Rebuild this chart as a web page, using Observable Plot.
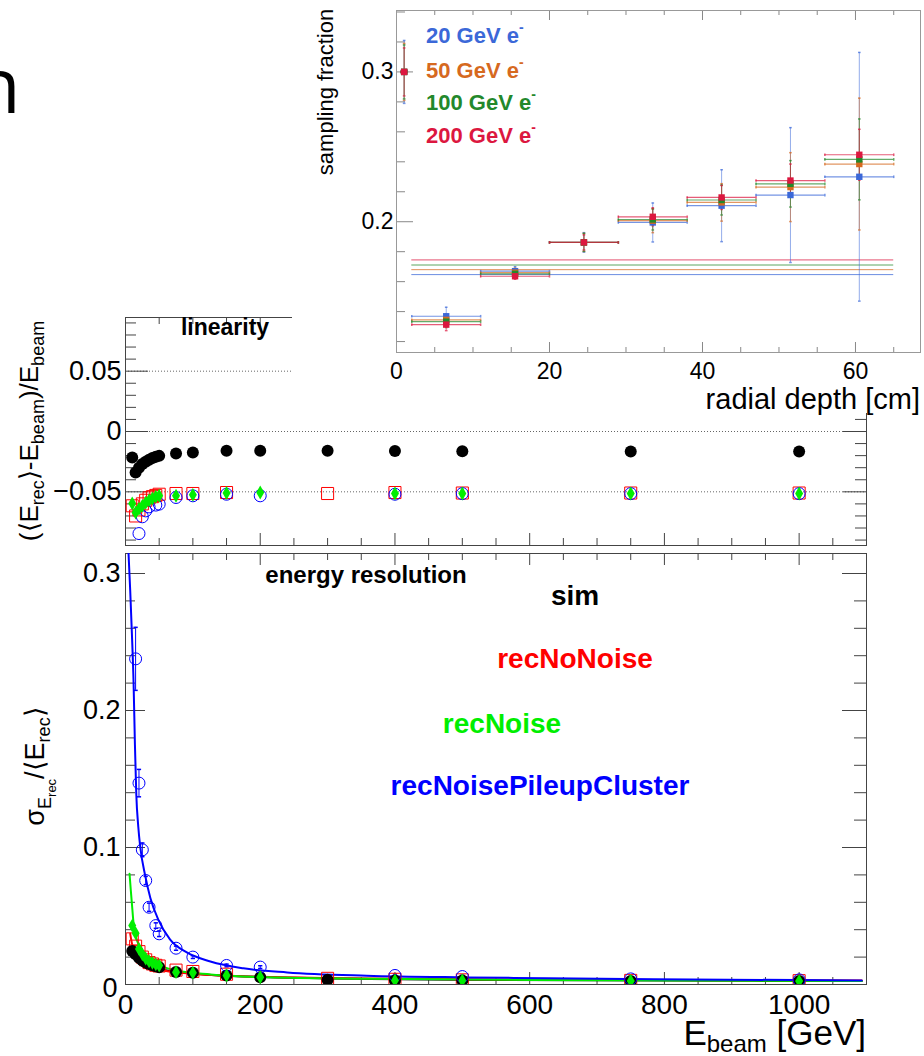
<!DOCTYPE html>
<html><head><meta charset="utf-8">
<script src="https://cdn.jsdelivr.net/npm/d3@7"></script>
<script src="https://cdn.jsdelivr.net/npm/@observablehq/plot@0.6"></script>
<style>
html,body{margin:0;padding:0;background:#fff;}
#root{position:relative;width:924px;height:1056px;overflow:hidden;background:#fff;}
</style></head><body><div id="root"></div>
<script>
// ---------------- data: main panels (beam energy in GeV) ----------------
const simE   = [10, 15, 20, 25, 30, 35, 40, 45, 50, 75, 100, 150, 200, 300, 400, 500, 750, 1000];
const simLin = [-0.0216, -0.034, -0.030, -0.027, -0.025, -0.0235, -0.022, -0.021, -0.0202, -0.0182, -0.0174, -0.016, -0.016, -0.016, -0.0162, -0.0164, -0.0165, -0.0165];
const simRes = [0.0245, 0.022, 0.0195, 0.0175, 0.016, 0.015, 0.014, 0.0133, 0.0126, 0.0092, 0.0085, 0.0066, 0.0053, 0.0034, 0.003, 0.003, 0.0026, 0.0025];

const noNoiseE   = [10, 15, 20, 25, 30, 35, 40, 45, 50, 75, 100, 150, 300, 400, 500, 750, 1000];
const noNoiseLin = [-0.0616, -0.070, -0.065, -0.060, -0.057, -0.055, -0.054, -0.053, -0.052, -0.0514, -0.0514, -0.0506, -0.0514, -0.0506, -0.051, -0.051, -0.051];
const noNoiseRes = [0.0333, 0.028, 0.024, 0.020, 0.018, 0.016, 0.015, 0.014, 0.0135, 0.0105, 0.0095, 0.0075, 0.0045, 0.0038, 0.0034, 0.003, 0.0028];

const noiseE   = [10, 15, 20, 25, 30, 35, 40, 45, 50, 75, 100, 150, 200, 400, 500, 750, 1000];
const noiseLin = [-0.0597, -0.0672, -0.064, -0.0616, -0.059, -0.057, -0.0555, -0.054, -0.0533, -0.0533, -0.0525, -0.051, -0.0506, -0.0514, -0.0514, -0.0514, -0.0514];
const noiseRes = [0.043, 0.0375, 0.026, 0.022, 0.019, 0.017, 0.0158, 0.0147, 0.0139, 0.009, 0.0085, 0.0066, 0.0053, 0.003, 0.003, 0.0026, 0.0025];

const pileupE      = [15, 20, 25, 30, 35, 45, 50, 75, 100, 150, 200, 400, 500, 750, 1000];
const pileupLin    = [-0.105, -0.0846, -0.0707, -0.0658, -0.0625, -0.061, -0.0602, -0.0547, -0.0533, -0.052, -0.0533, -0.052, -0.0515, -0.0515, -0.0515];
const pileupRes    = [0.2377, 0.147, 0.0983, 0.0759, 0.0564, 0.043, 0.037, 0.0265, 0.020, 0.0139, 0.0127, 0.0066, 0.0058, 0.0041, 0.0034];
const pileupResErr = [0.023, 0.010, 0.005, 0.003, 0.003, 0.002, 0.002, 0.0015, 0.001, 0.001, 0.001, 0.001, 0.001, 0.001, 0.001];

// fitted resolution curves: [E, sigma/E]
const fitPileupE = [4.5, 7, 9.5, 12, 14, 16, 19, 22, 29, 37, 49, 66, 91, 126, 175, 240, 358, 507, 626, 784, 1093];
const fitPileupV = [0.3146, 0.2876, 0.256, 0.22, 0.175, 0.139, 0.115, 0.100, 0.080, 0.063, 0.047, 0.033, 0.0234, 0.0168, 0.0118, 0.0088, 0.0064, 0.0052, 0.0046, 0.0038, 0.0030];
const fitNoiseE = [6, 8, 9.5, 12, 17, 27, 47, 76, 126, 210, 358, 600, 1093];
const fitNoiseV = [0.0808, 0.068, 0.059, 0.0443, 0.0321, 0.0236, 0.0151, 0.0102, 0.0073, 0.0053, 0.0042, 0.0033, 0.0026];
const fitNoNoiseE = [7, 10, 15, 20, 30, 50, 100, 200, 500, 1093];
const fitNoNoiseV = [0.037, 0.029, 0.022, 0.018, 0.0145, 0.011, 0.0078, 0.0056, 0.0038, 0.003];
const fitSimE = [7, 10, 20, 50, 100, 200, 500, 1093];
const fitSimV = [0.026, 0.024, 0.018, 0.0115, 0.008, 0.0055, 0.0035, 0.0025];

const linRefLines = [0.05, 0, -0.05];
const energyTicks = [0, 200, 400, 600, 800, 1000];
const energyMinor = [50, 100, 150, 250, 300, 350, 450, 500, 550, 650, 700, 750, 850, 900, 950, 1050, 1100];
const linTicks = [-0.05, 0, 0.05];
const linMinor = [-0.09, -0.08, -0.07, -0.06, -0.04, -0.03, -0.02, -0.01, 0.01, 0.02, 0.03, 0.04, 0.06, 0.07, 0.08, 0.09];
const resTicks = [0.1, 0.2, 0.3];
const resMinor = [0.02, 0.04, 0.06, 0.08, 0.12, 0.14, 0.16, 0.18, 0.22, 0.24, 0.26, 0.28];

// ---------------- data: inset (sampling fraction vs radial depth) ----------------
const beamLabels = ["20 GeV e", "50 GeV e", "100 GeV e", "200 GeV e"];
const depthCenter = [1, 6.5, 15.5, 24.5, 33.5, 42.5, 51.5, 60.5];
const depthLow    = [0.6, 2, 11, 20, 29, 38, 47, 56];
const depthHigh   = [1.4, 11, 20, 29, 38, 47, 56, 65];
const sf20  = [0.300, 0.1369, 0.1670, 0.1862, 0.1995, 0.2107, 0.2178, 0.2300];
const sf50  = [0.300, 0.1345, 0.1660, 0.1862, 0.2007, 0.2129, 0.2231, 0.2385];
const sf100 = [0.300, 0.1333, 0.1652, 0.1862, 0.2015, 0.2145, 0.2253, 0.2416];
const sf200 = [0.300, 0.1313, 0.1636, 0.1862, 0.2033, 0.2162, 0.2275, 0.2447];
const err20  = [0.021, 0.006, 0.003, 0.0065, 0.013, 0.024, 0.045, 0.083];
const err50  = [0.019, 0.004, 0.003, 0.006, 0.008, 0.0125, 0.023, 0.044];
const err100 = [0.018, 0.004, 0.003, 0.006, 0.007, 0.010, 0.0155, 0.027];
const err200 = [0.016, 0.004, 0.002, 0.005, 0.006, 0.008, 0.011, 0.017];
const meanSF = [0.1647, 0.1680, 0.1711, 0.1745];
const meanRange = [2, 65];
const depthTicks = [0, 20, 40, 60];
const depthMinor = [5, 10, 15, 25, 30, 35, 45, 50, 55, 65];
const sfTicks = [0.2, 0.3];
const sfMinor = [0.12, 0.14, 0.16, 0.18, 0.22, 0.24, 0.26, 0.28, 0.32, 0.34];

// ---------------- styling ----------------
const FONT = "'Liberation Sans', Arial, Helvetica, sans-serif";
const C_SIM = "#000000", C_NONOISE = "#ff0000", C_NOISE = "#00ee00", C_PILEUP = "#0000ff";
const insetColors = ["#3b68d8", "#d6691f", "#23882b", "#dc173f"];
const root = document.getElementById("root");

const rows = (E, V, extra) => E.map((e, i) => ({E: e, v: V[i], err: extra ? extra[i] : 0}));
const fmt = d => d === 0 ? "0" : (d < 0 ? "\u2212" : "") + String(Math.abs(d));

function place(svg, left, top, z) {
  svg.style.position = "absolute"; svg.style.left = left + "px"; svg.style.top = top + "px";
  svg.style.zIndex = z; svg.style.maxWidth = "none"; svg.style.overflow = "visible";
  root.appendChild(svg); return svg;
}
function richText(svg, o) {
  const t = d3.select(svg).append("text")
    .attr("transform", `translate(${o.x},${o.y})` + (o.rotate ? ` rotate(${o.rotate})` : ""))
    .attr("text-anchor", o.anchor || "start")
    .attr("font-family", FONT).attr("font-size", o.size)
    .attr("font-weight", o.weight || "normal").attr("fill", o.fill || "#000");
  let cur = 0;
  for (const s of o.parts) {
    const p = typeof s === "string" ? {t: s} : s;
    const sh = p.shift || 0;
    t.append("tspan").attr("font-size", p.size || o.size).attr("dy", sh - cur).text(p.t);
    cur = sh;
  }
  return t;
}
function frameTicksX(vals, len, fh, color) {
  return [
    Plot.tickX(vals, {x: d => d, insetTop: fh - len, stroke: color}),
    Plot.tickX(vals, {x: d => d, insetBottom: fh - len, stroke: color})
  ];
}
function frameTicksY(vals, lenL, lenR, fw, color) {
  return [
    Plot.tickY(vals, {y: d => d, insetRight: fw - lenL, stroke: color}),
    Plot.tickY(vals, {y: d => d, insetLeft: fw - lenR, stroke: color})
  ];
}
const capH = {draw(ctx, size) { const w = Math.sqrt(size) / 2; ctx.moveTo(-w, 0); ctx.lineTo(w, 0); }};
const capV = {draw(ctx, size) { const w = Math.sqrt(size) / 2; ctx.moveTo(0, -w); ctx.lineTo(0, w); }};

// ---------------- slide title fragment ----------------
const nSvg = d3.create("svg").attr("width", 200).attr("height", 140);
nSvg.append("text").attr("x", -26).attr("y", 113).attr("font-family", "'Open Sans', sans-serif")
  .attr("font-size", 76).attr("fill", "#000").text("n");
place(nSvg.node(), 0, 0, 1);

// ---------------- main: geometry ----------------
const W = 924, FL = 125, FR = 866;
const FW = FR - FL;
const FRAME = "#444";

// ---------------- linearity panel ----------------
const LIN_TOP = 290, LIN_H = 257, LIN_MT = 27, LIN_MB = 2;
const LIN_FH = LIN_H - LIN_MT - LIN_MB;
const linSvg = Plot.plot({
  width: W, height: LIN_H,
  marginLeft: FL, marginRight: W - FR, marginTop: LIN_MT, marginBottom: LIN_MB,
  x: {domain: [0, 1100], axis: null},
  y: {domain: [-0.0945, 0.0945], axis: null},
  style: {fontFamily: FONT, background: "transparent", overflow: "visible"},
  marks: [
    Plot.ruleY(linRefLines, {stroke: "#666", strokeDasharray: "1,2", strokeWidth: 1}),
    ...frameTicksX(energyTicks, 12, LIN_FH, FRAME),
    ...frameTicksX(energyMinor, 7, LIN_FH, FRAME),
    ...frameTicksY(linTicks, 23, 23, FW, FRAME),
    ...frameTicksY(linMinor, 11, 11, FW, FRAME),
    Plot.frame({stroke: FRAME}),
    Plot.axisY({ticks: linTicks, tickSize: 0, tickPadding: 4, fontSize: 27, tickFormat: fmt, label: null}),
    Plot.dot(rows(noNoiseE, noNoiseLin), {x: "E", y: "v", symbol: "square", r: 6.8, stroke: C_NONOISE, fill: "none", strokeWidth: 1, clip: true}),
    Plot.dot(rows(simE, simLin), {x: "E", y: "v", r: 6, fill: C_SIM, clip: true}),
    Plot.dot(rows(pileupE, pileupLin), {x: "E", y: "v", r: 6, stroke: C_PILEUP, fill: "none", strokeWidth: 1, clip: true}),
    Plot.dot(rows(noiseE, noiseLin), {x: "E", y: "v", symbol: "diamond", r: 4.2, fill: C_NOISE, clip: true})
  ]
});
place(linSvg, 0, LIN_TOP, 2);
richText(linSvg, {x: 225, y: 335 - LIN_TOP, anchor: "middle", size: 23, weight: "bold", parts: ["linearity"]});
richText(linSvg, {x: 38, y: 431 - LIN_TOP, rotate: -90, anchor: "middle", size: 26,
  parts: ["(\u27E8E", {t: "rec", size: 18, shift: 6}, "\u27E9-E", {t: "beam", size: 18, shift: 6}, ")/E", {t: "beam", size: 18, shift: 6}]});

// ---------------- resolution panel ----------------
const RES_TOP = 545, RES_H = 511, RES_MT = 8, RES_MB = 72;
const RES_FH = RES_H - RES_MT - RES_MB;
const pileRows = rows(pileupE, pileupRes, pileupResErr);
const resSvg = Plot.plot({
  width: W, height: RES_H,
  marginLeft: FL, marginRight: W - FR, marginTop: RES_MT, marginBottom: RES_MB,
  x: {domain: [0, 1100], axis: null},
  y: {domain: [0, 0.3146], axis: null},
  style: {fontFamily: FONT, background: "transparent", overflow: "visible"},
  marks: [
    ...frameTicksX(energyTicks, 12, RES_FH, FRAME),
    ...frameTicksX(energyMinor, 7, RES_FH, FRAME),
    ...frameTicksY(resTicks, 20, 24, FW, FRAME),
    ...frameTicksY(resMinor, 10, 12, FW, FRAME),
    Plot.frame({stroke: FRAME}),
    Plot.axisX({ticks: energyTicks, tickSize: 0, tickPadding: 10, fontSize: 28, tickFormat: d => String(d), label: null}),
    Plot.axisY({ticks: resTicks, tickSize: 0, tickPadding: 5, fontSize: 27, tickFormat: fmt, label: null}),
    Plot.axisY({ticks: [0], tickSize: 0, tickPadding: 8, fontSize: 27, tickFormat: fmt, label: null, dy: 4}),
    Plot.line(rows(fitSimE, fitSimV), {x: "E", y: "v", stroke: C_SIM, strokeWidth: 2, curve: "monotone-x", clip: true}),
    Plot.line(rows(fitNoNoiseE, fitNoNoiseV), {x: "E", y: "v", stroke: C_NONOISE, strokeWidth: 2, curve: "monotone-x", clip: true}),
    Plot.line(rows(fitNoiseE, fitNoiseV), {x: "E", y: "v", stroke: C_NOISE, strokeWidth: 2, curve: "monotone-x", clip: true}),
    Plot.line(rows(fitPileupE, fitPileupV), {x: "E", y: "v", stroke: C_PILEUP, strokeWidth: 2, curve: "monotone-x", clip: true}),
    Plot.ruleX(pileRows, {x: "E", y1: d => d.v - d.err, y2: d => d.v + d.err, stroke: C_PILEUP, strokeWidth: 1, clip: true}),
    Plot.dot(pileRows, {x: "E", y: d => d.v - d.err, symbol: capH, r: 2.4, stroke: C_PILEUP, clip: true}),
    Plot.dot(pileRows, {x: "E", y: d => d.v + d.err, symbol: capH, r: 2.4, stroke: C_PILEUP, clip: true}),
    Plot.dot(rows(noNoiseE, noNoiseRes), {x: "E", y: "v", symbol: "square", r: 6.8, stroke: C_NONOISE, fill: "none", strokeWidth: 1, clip: true}),
    Plot.dot(rows(simE, simRes), {x: "E", y: "v", r: 6, fill: C_SIM, clip: true}),
    Plot.dot(pileRows, {x: "E", y: "v", r: 6, stroke: C_PILEUP, fill: "none", strokeWidth: 1, clip: true}),
    Plot.dot(rows(noiseE, noiseRes), {x: "E", y: "v", symbol: "diamond", r: 4.2, fill: C_NOISE, clip: true})
  ]
});
place(resSvg, 0, RES_TOP, 2);
richText(resSvg, {x: 366, y: 583 - RES_TOP, anchor: "middle", size: 24, weight: "bold", parts: ["energy resolution"]});
richText(resSvg, {x: 575, y: 605 - RES_TOP, anchor: "middle", size: 28, weight: "bold", fill: C_SIM, parts: ["sim"]});
richText(resSvg, {x: 575, y: 668 - RES_TOP, anchor: "middle", size: 28, weight: "bold", fill: C_NONOISE, parts: ["recNoNoise"]});
richText(resSvg, {x: 502, y: 733 - RES_TOP, anchor: "middle", size: 28, weight: "bold", fill: C_NOISE, parts: ["recNoise"]});
richText(resSvg, {x: 540, y: 795 - RES_TOP, anchor: "middle", size: 28, weight: "bold", fill: C_PILEUP, parts: ["recNoisePileupCluster"]});
richText(resSvg, {x: 44, y: 766 - RES_TOP, rotate: -90, anchor: "middle", size: 27,
  parts: ["\u03C3", {t: "E", size: 18, shift: 7}, {t: "rec", size: 13, shift: 12}, {t: "/\u27E8E", shift: 0}, {t: "rec", size: 18, shift: 6}, {t: "\u27E9", shift: 0}]});
richText(resSvg, {x: 866, y: 1045 - RES_TOP, anchor: "end", size: 35,
  parts: ["E", {t: "beam", size: 24, shift: 7}, {t: " [GeV]", shift: 0}]});

// ---------------- inset: sampling fraction ----------------
const IN_LEFT = 292, IN_W = 632, IN_H = 413, IN_ML = 104, IN_MR = 4, IN_MT = 10, IN_MB = 61;
const IN_FW = IN_W - IN_ML - IN_MR, IN_FH = IN_H - IN_MT - IN_MB;
const sfSeries = [sf20, sf50, sf100, sf200];
const errSeries = [err20, err50, err100, err200];
const insetMarks = [];
sfSeries.forEach((sf, k) => {
  const c = insetColors[k];
  insetMarks.push(Plot.ruleY([meanSF[k]], {y: d => d, x1: meanRange[0], x2: meanRange[1], stroke: c, strokeOpacity: 0.75, strokeWidth: 1}));
});
sfSeries.forEach((sf, k) => {
  const c = insetColors[k];
  const r = depthCenter.map((x, i) => ({x, lo: depthLow[i], hi: depthHigh[i], v: sf[i], e: errSeries[k][i]}));
  insetMarks.push(
    Plot.ruleY(r, {y: "v", x1: "lo", x2: "hi", stroke: c, strokeOpacity: 0.7, strokeWidth: 1.2}),
    Plot.ruleX(r, {x: "x", y1: d => d.v - d.e, y2: d => d.v + d.e, stroke: c, strokeOpacity: 0.55, strokeWidth: 1}),
    Plot.dot(r, {x: "x", y: d => d.v - d.e, symbol: capH, r: 1.5, stroke: c, strokeOpacity: 0.7}),
    Plot.dot(r, {x: "x", y: d => d.v + d.e, symbol: capH, r: 1.5, stroke: c, strokeOpacity: 0.7}),
    Plot.dot(r, {x: "lo", y: "v", symbol: capV, r: 1.5, stroke: c, strokeOpacity: 0.7}),
    Plot.dot(r, {x: "hi", y: "v", symbol: capV, r: 1.5, stroke: c, strokeOpacity: 0.7})
  );
});
sfSeries.forEach((sf, k) => {
  const r = depthCenter.map((x, i) => ({x, v: sf[i]}));
  insetMarks.push(Plot.dot(r, {x: "x", y: "v", symbol: "square", r: 3.6, fill: insetColors[k]}));
});
const insetSvg = Plot.plot({
  width: IN_W, height: IN_H,
  marginLeft: IN_ML, marginRight: IN_MR, marginTop: IN_MT, marginBottom: IN_MB,
  x: {domain: [0, 68.5], axis: null},
  y: {domain: [0.1127, 0.341], axis: null},
  style: {fontFamily: FONT, background: "#ffffff", overflow: "visible"},
  marks: [
    ...frameTicksX(depthTicks, 10, IN_FH, "#888"),
    ...frameTicksX(depthMinor, 5, IN_FH, "#888"),
    Plot.tickY(sfTicks, {y: d => d, insetRight: IN_FW - 17, stroke: "#888"}),
    Plot.tickY(sfMinor, {y: d => d, insetRight: IN_FW - 9, stroke: "#888"}),
    Plot.frame({stroke: "#999"}),
    Plot.axisX({ticks: depthTicks, tickSize: 0, tickPadding: 10, fontSize: 23, tickFormat: d => String(d), label: null}),
    Plot.axisY({ticks: sfTicks, tickSize: 0, tickPadding: 3, fontSize: 23, tickFormat: fmt, label: null}),
    ...insetMarks
  ]
});
place(insetSvg, IN_LEFT, 0, 3);
richText(insetSvg, {x: 920 - IN_LEFT, y: 409, anchor: "end", size: 29, parts: ["radial depth [cm]"]});
richText(insetSvg, {x: 333 - IN_LEFT, y: 92, rotate: -90, anchor: "middle", size: 22, parts: ["sampling fraction"]});
const legendBase = [43, 78, 110, 143];
beamLabels.forEach((lab, k) => {
  richText(insetSvg, {x: 426 - IN_LEFT, y: legendBase[k], size: 22, weight: "bold", fill: insetColors[k],
    parts: [lab, {t: "-", size: 14, shift: -11}]});
});
</script></body></html>
